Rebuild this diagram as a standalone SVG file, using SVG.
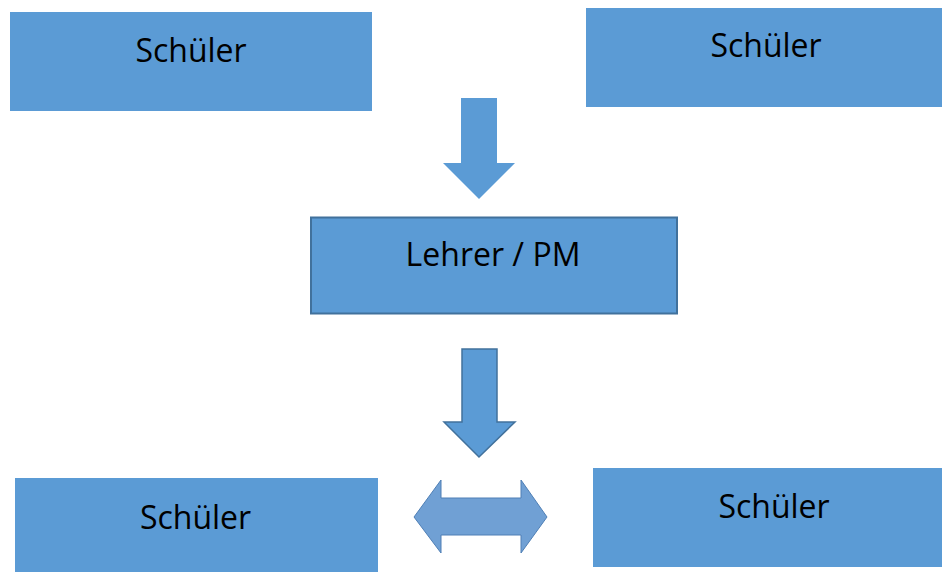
<svg xmlns="http://www.w3.org/2000/svg" width="942" height="572" viewBox="0 0 942 572">
<style>
.box{fill:#5B9BD5;}
.lbl{font-family:"Open Sans","Liberation Sans",sans-serif;font-size:32px;fill:#000;text-anchor:middle;}
</style>
<rect width="942" height="572" fill="#fff"/>
<g id="schueler-tl"><rect class="box" x="10" y="12" width="362" height="99"/><text class="lbl" x="191" y="62">Schüler</text></g>
<g id="schueler-tr"><rect class="box" x="586" y="8" width="356" height="99"/><text class="lbl" x="766" y="57">Schüler</text></g>
<g id="lehrer"><rect class="box" x="311" y="217.5" width="366" height="96" stroke="#41719C" stroke-width="2"/><text class="lbl" x="493" y="266">Lehrer / PM</text></g>
<g id="schueler-bl"><rect class="box" x="15" y="478" width="363" height="94"/><text class="lbl" x="195.5" y="529">Schüler</text></g>
<g id="schueler-br"><rect class="box" x="593" y="468" width="349" height="99"/><text class="lbl" x="774" y="518">Schüler</text></g>
<g id="connectors">
<polygon points="461,98 497,98 497,163 515,163 479,199 443,163 461,163" fill="#5B9BD5"/>
<polygon points="462,349 497,349 497,422 515,422 479,457 444,422 462,422" fill="#5B9BD5" stroke="#41719C" stroke-width="1.5"/>
<polygon points="414,517 441,480 441,498 521,498 521,480 547,517 521,553 521,535 441,535 441,553" fill="#70A0D4" stroke="#4F7FB5" stroke-width="1"/>
</g>
</svg>
